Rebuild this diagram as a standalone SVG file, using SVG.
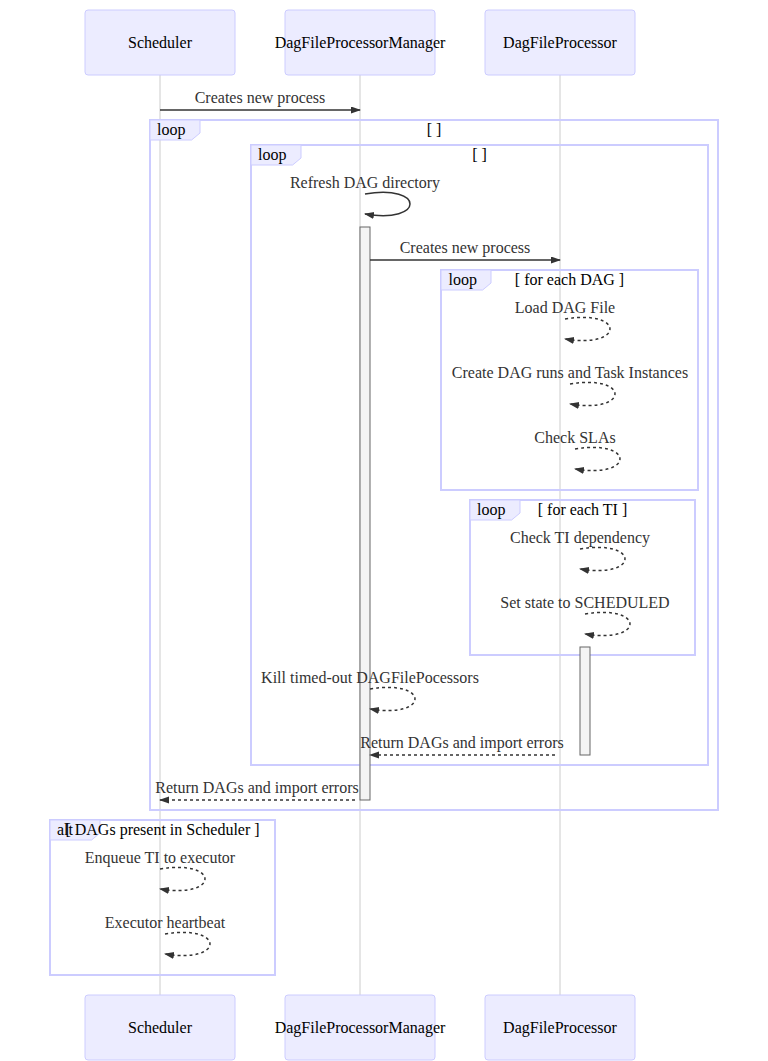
<svg xmlns="http://www.w3.org/2000/svg" width="768" height="1061" viewBox="0 0 768 1061">
<style>
  .actor{fill:#ECECFF;stroke:#CCCCFF;stroke-width:1}
  .atext{font-family:"Liberation Serif",serif;font-size:16px;fill:#000;text-anchor:middle}
  .life{stroke:#CCCCCC;stroke-width:1}
  .msg{font-family:"Liberation Serif",serif;font-size:16px;fill:#333;text-anchor:middle}
  .line{stroke:#333;stroke-width:1.5;fill:none}
  .dash{stroke-dasharray:3,3}
  .frame{fill:none;stroke:#CCCCFF;stroke-width:2}
  .lbox{fill:#ECECFF;stroke:#CCCCFF;stroke-width:1}
  .ltext{font-family:"Liberation Serif",serif;font-size:16px;fill:#000}
  .ctext{font-family:"Liberation Serif",serif;font-size:16px;fill:#000;text-anchor:middle}
  .act{fill:#F4F4F4;stroke:#666;stroke-width:1}
</style>
<defs>
  <marker id="arrow" markerUnits="userSpaceOnUse" markerWidth="10" markerHeight="8" refX="9" refY="3.5" orient="auto">
    <path d="M0,0 L10,3.5 L0,7 z" fill="#333"/>
  </marker>
</defs>
<rect width="768" height="1061" fill="#fff"/>
<g id="lifelines">
  <line class="life" x1="160" y1="75" x2="160" y2="995"/>
  <line class="life" x1="360" y1="75" x2="360" y2="995"/>
  <line class="life" x1="560" y1="75" x2="560" y2="995"/>
</g>
<g id="actor-scheduler">
  <rect class="actor" x="85" y="10" width="150" height="65" rx="3"/>
  <text class="atext" x="160" y="48">Scheduler</text>
  <rect class="actor" x="85" y="995" width="150" height="65" rx="3"/>
  <text class="atext" x="160" y="1033">Scheduler</text>
</g>
<g id="actor-manager">
  <rect class="actor" x="285" y="10" width="150" height="65" rx="3"/>
  <text class="atext" x="360" y="48">DagFileProcessorManager</text>
  <rect class="actor" x="285" y="995" width="150" height="65" rx="3"/>
  <text class="atext" x="360" y="1033">DagFileProcessorManager</text>
</g>
<g id="actor-processor">
  <rect class="actor" x="485" y="10" width="150" height="65" rx="3"/>
  <text class="atext" x="560" y="48">DagFileProcessor</text>
  <rect class="actor" x="485" y="995" width="150" height="65" rx="3"/>
  <text class="atext" x="560" y="1033">DagFileProcessor</text>
</g>
<g id="frames">
  <g id="loop-outer">
    <rect class="frame" x="150" y="120" width="568" height="690"/>
    <polygon class="lbox" points="150,120 200,120 200,133 191.6,140 150,140"/>
    <text class="ltext" x="157" y="135">loop</text>
    <text class="ctext" x="434" y="135">[ ]</text>
  </g>
  <g id="loop-inner">
    <rect class="frame" x="251" y="145" width="457" height="620"/>
    <polygon class="lbox" points="251,145 301,145 301,158 292.6,165 251,165"/>
    <text class="ltext" x="258" y="160">loop</text>
    <text class="ctext" x="479.5" y="160">[ ]</text>
  </g>
  <g id="loop-dag">
    <rect class="frame" x="441" y="270" width="257" height="220"/>
    <polygon class="lbox" points="441,270 491,270 491,283 482.6,290 441,290"/>
    <text class="ltext" x="448.5" y="285">loop</text>
    <text class="ctext" x="569.5" y="285">[ for each DAG ]</text>
  </g>
  <g id="loop-ti">
    <rect class="frame" x="470" y="500" width="225" height="155"/>
    <polygon class="lbox" points="470,500 520,500 520,513 511.6,520 470,520"/>
    <text class="ltext" x="477" y="515">loop</text>
    <text class="ctext" x="582.5" y="515">[ for each TI ]</text>
  </g>
  <g id="alt">
    <rect class="frame" x="50" y="820" width="225" height="155"/>
    <polygon class="lbox" points="50,820 100,820 100,833 91.6,840 50,840"/>
    <text class="ltext" x="57" y="835">alt</text>
    <text class="ctext" x="162.5" y="835">[ DAGs present in Scheduler ]</text>
  </g>
</g>
<g id="activations">
  <rect class="act" x="360" y="227" width="10" height="573"/>
  <rect class="act" x="580" y="647" width="10" height="108"/>
</g>
<g id="connectors">
  <line class="line" x1="160" y1="110" x2="360" y2="110" marker-end="url(#arrow)"/>
  <path class="line" d="M365,194 C425,184 425,224 365,214" marker-end="url(#arrow)"/>
  <line class="line" x1="370" y1="260" x2="560" y2="260" marker-end="url(#arrow)"/>
  <path class="line dash" d="M565,319 C625,309 625,349 565,339" marker-end="url(#arrow)"/>
  <path class="line dash" d="M570,384 C630,374 630,414 570,404" marker-end="url(#arrow)"/>
  <path class="line dash" d="M575,449 C635,439 635,479 575,469" marker-end="url(#arrow)"/>
  <path class="line dash" d="M580,549 C640,539 640,579 580,569" marker-end="url(#arrow)"/>
  <path class="line dash" d="M585,614 C645,604 645,644 585,634" marker-end="url(#arrow)"/>
  <path class="line dash" d="M370,689 C430,679 430,719 370,709" marker-end="url(#arrow)"/>
  <line class="line dash" x1="555" y1="755" x2="370" y2="755" marker-end="url(#arrow)"/>
  <line class="line dash" x1="355" y1="800" x2="160" y2="800" marker-end="url(#arrow)"/>
  <path class="line dash" d="M160,869 C220,859 220,899 160,889" marker-end="url(#arrow)"/>
  <path class="line dash" d="M165,934 C225,924 225,964 165,954" marker-end="url(#arrow)"/>
</g>
<g id="labels">
  <text class="msg" x="260" y="103">Creates new process</text>
  <text class="msg" x="365" y="188">Refresh DAG directory</text>
  <text class="msg" x="465" y="253">Creates new process</text>
  <text class="msg" x="565" y="313">Load DAG File</text>
  <text class="msg" x="570" y="378">Create DAG runs and Task Instances</text>
  <text class="msg" x="575" y="443">Check SLAs</text>
  <text class="msg" x="580" y="543">Check TI dependency</text>
  <text class="msg" x="585" y="608">Set state to SCHEDULED</text>
  <text class="msg" x="370" y="683">Kill timed-out DAGFilePocessors</text>
  <text class="msg" x="462" y="748">Return DAGs and import errors</text>
  <text class="msg" x="257" y="793">Return DAGs and import errors</text>
  <text class="msg" x="160" y="863">Enqueue TI to executor</text>
  <text class="msg" x="165" y="928">Executor heartbeat</text>
</g>
</svg>
